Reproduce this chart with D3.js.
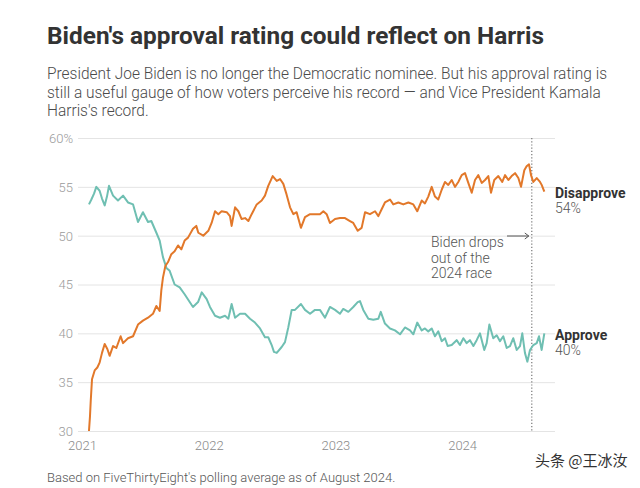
<!DOCTYPE html>
<html>
<head>
<meta charset="utf-8">
<script src="https://cdn.jsdelivr.net/npm/d3@7"></script>
<style>
  html, body { margin: 0; padding: 0; background: #fff; }
  svg { display: block; }
  text { font-family: Roboto, "Noto Sans", "Liberation Sans", sans-serif; }
</style>
</head>
<body>
<svg id="chart" width="640" height="488"></svg>
<script>
// ---- Data (decimal year, percent) ----
const approve = [
  [2021.055,53.2],[2021.074,53.7],[2021.095,54.3],[2021.113,55.0],[2021.139,54.6],[2021.158,53.8],
  [2021.179,53.1],[2021.197,54.0],[2021.213,55.1],[2021.245,54.1],[2021.284,53.6],[2021.324,54.1],
  [2021.363,53.4],[2021.403,53.2],[2021.442,51.4],[2021.481,52.4],[2021.521,51.4],[2021.547,51.5],
  [2021.587,50.3],[2021.613,49.5],[2021.639,47.8],[2021.666,46.7],[2021.692,46.4],[2021.731,45.0],
  [2021.771,44.7],[2021.810,44.0],[2021.850,43.2],[2021.876,42.7],[2021.916,43.2],[2021.945,44.2],
  [2021.984,43.5],[2022.010,42.7],[2022.050,41.8],[2022.089,41.6],[2022.129,41.8],[2022.155,41.5],
  [2022.181,43.0],[2022.208,41.6],[2022.247,42.0],[2022.287,42.0],[2022.326,41.5],[2022.365,41.1],
  [2022.405,40.5],[2022.444,39.6],[2022.470,39.6],[2022.497,38.8],[2022.515,38.1],[2022.537,38.0],
  [2022.576,38.6],[2022.602,39.1],[2022.628,40.6],[2022.655,42.4],[2022.681,42.4],[2022.728,43.0],
  [2022.760,42.4],[2022.800,42.0],[2022.839,42.4],[2022.878,42.4],[2022.918,41.6],[2022.957,42.7],
  [2022.997,42.4],[2023.036,42.0],[2023.062,42.5],[2023.102,42.2],[2023.141,42.7],[2023.176,43.2],
  [2023.194,43.3],[2023.220,42.4],[2023.260,41.5],[2023.299,41.4],[2023.339,41.5],[2023.358,42.2],
  [2023.391,41.0],[2023.431,40.5],[2023.470,40.3],[2023.510,39.9],[2023.549,40.6],[2023.589,40.3],
  [2023.615,39.9],[2023.646,41.1],[2023.681,40.3],[2023.707,40.5],[2023.733,40.2],[2023.760,40.5],
  [2023.786,39.7],[2023.812,40.2],[2023.839,39.2],[2023.865,39.5],[2023.886,38.7],[2023.918,38.8],
  [2023.957,39.3],[2023.983,38.8],[2024.010,39.5],[2024.036,39.0],[2024.062,39.3],[2024.089,38.7],
  [2024.115,39.3],[2024.141,40.0],[2024.175,38.3],[2024.194,39.0],[2024.215,40.9],[2024.246,39.5],
  [2024.273,39.8],[2024.299,39.2],[2024.325,39.7],[2024.352,38.5],[2024.378,38.7],[2024.404,39.5],
  [2024.431,38.3],[2024.457,38.7],[2024.475,40.0],[2024.496,38.0],[2024.515,37.1],[2024.536,38.3],
  [2024.562,38.8],[2024.589,39.0],[2024.607,39.7],[2024.628,38.3],[2024.649,40.0]
];
const disapprove = [
  [2021.055,30.0],[2021.063,31.5],[2021.069,33.1],[2021.079,35.3],[2021.100,36.2],[2021.121,36.5],
  [2021.139,37.0],[2021.158,38.0],[2021.179,38.9],[2021.200,38.4],[2021.218,37.7],[2021.245,38.7],
  [2021.271,38.5],[2021.305,39.7],[2021.324,39.0],[2021.363,39.5],[2021.403,39.7],[2021.442,40.9],
  [2021.481,41.3],[2021.521,41.6],[2021.560,42.0],[2021.587,42.8],[2021.613,42.3],[2021.626,44.4],
  [2021.639,45.7],[2021.658,46.9],[2021.679,47.3],[2021.705,48.1],[2021.731,48.4],[2021.758,49.0],
  [2021.784,48.6],[2021.810,49.5],[2021.837,49.8],[2021.876,50.7],[2021.902,51.0],[2021.918,50.3],
  [2021.957,50.0],[2021.997,50.5],[2022.023,51.3],[2022.050,52.5],[2022.076,52.2],[2022.102,52.5],
  [2022.142,52.4],[2022.168,52.0],[2022.181,51.0],[2022.208,52.9],[2022.234,52.5],[2022.260,51.7],
  [2022.287,51.8],[2022.313,51.5],[2022.339,52.2],[2022.379,53.2],[2022.418,53.6],[2022.444,54.1],
  [2022.470,55.1],[2022.505,56.1],[2022.537,55.6],[2022.563,55.8],[2022.589,55.3],[2022.615,54.2],
  [2022.642,52.9],[2022.668,52.2],[2022.694,52.4],[2022.728,50.8],[2022.760,51.9],[2022.800,52.2],
  [2022.839,52.2],[2022.878,52.2],[2022.905,52.5],[2022.931,52.2],[2022.957,51.3],[2022.997,51.7],
  [2023.036,51.8],[2023.076,51.8],[2023.115,51.5],[2023.141,51.3],[2023.176,50.5],[2023.207,50.8],
  [2023.234,52.4],[2023.273,52.2],[2023.313,52.5],[2023.339,52.0],[2023.365,52.7],[2023.391,53.4],
  [2023.431,53.7],[2023.457,53.2],[2023.497,53.4],[2023.536,53.2],[2023.576,53.4],[2023.615,53.2],
  [2023.646,52.5],[2023.681,53.6],[2023.707,53.3],[2023.733,54.0],[2023.760,55.0],[2023.786,54.0],
  [2023.812,53.7],[2023.839,54.7],[2023.865,55.5],[2023.891,55.2],[2023.918,55.7],[2023.944,55.0],
  [2023.970,55.5],[2023.997,56.2],[2024.023,56.4],[2024.049,55.4],[2024.076,54.4],[2024.102,55.7],
  [2024.128,56.2],[2024.155,55.4],[2024.181,55.7],[2024.207,56.1],[2024.228,54.4],[2024.254,55.7],
  [2024.286,56.1],[2024.317,55.5],[2024.339,56.2],[2024.365,55.7],[2024.391,56.1],[2024.418,56.4],
  [2024.444,55.9],[2024.465,55.0],[2024.491,56.7],[2024.509,57.1],[2024.528,57.3],[2024.544,56.2],
  [2024.562,55.5],[2024.589,55.9],[2024.615,55.5],[2024.628,55.2],[2024.649,54.5]
];
const yTicks = [30, 35, 40, 45, 50, 55, 60];
const xTicks = [2021, 2022, 2023, 2024];
const dropOutYear = 2024.55;
const title = "Biden's approval rating could reflect on Harris";
const subtitleLines = [
  "President Joe Biden is no longer the Democratic nominee. But his approval rating is",
  "still a useful gauge of how voters perceive his record \u2014 and Vice President Kamala",
  "Harris's record."
];
const annotationLines = ["Biden drops", "out of the", "2024 race"];
const footer = "Based on FiveThirtyEight's polling average as of August 2024.";
const watermark = "\u5934\u6761 @\u738b\u51b0\u6c5d";
const endLabels = [
  { name: "Disapprove", value: "54%", last: 54.5, shift: 6 },
  { name: "Approve", value: "40%", last: 40.0, shift: 7 }
];

// ---- Drawing ----
const svg = d3.select("#chart");
const colors = { approve: "#6fbfb2", disapprove: "#e2782a" };

const x = d3.scaleLinear().domain([2021, 2025]).range([82, 82 + 4 * 126.7]);
const y = d3.scaleLinear().domain([30, 60]).range([431, 138]);
const gridX0 = 78, gridX1 = 555;

// title
const t = svg.append("text").attr("x", 47).attr("y", 44)
  .attr("font-size", 23).attr("font-weight", 700).attr("fill", "#333")
  .text(title);
t.attr("textLength", 497).attr("lengthAdjust", "spacingAndGlyphs");

// subtitle
const subs = svg.selectAll("text.sub").data(subtitleLines).join("text")
  .attr("class", "sub")
  .attr("x", 47).attr("y", (d, i) => 79 + i * 18.7)
  .attr("font-size", 16).attr("font-weight", 300).attr("fill", "#4a4a4a")
  .text(d => d);
const nat0 = subs.nodes()[0].getComputedTextLength();
const k = 560 / nat0;
subs.each(function () {
  const w = this.getComputedTextLength();
  d3.select(this).attr("textLength", w * k).attr("lengthAdjust", "spacingAndGlyphs");
});

// gridlines + y labels
const yAxis = d3.axisLeft(y).tickValues(yTicks)
  .tickSize(-(gridX1 - gridX0))
  .tickFormat(d => d === 60 ? "60%" : String(d));
const gy = svg.append("g").attr("transform", `translate(${gridX0},0)`).call(yAxis);
gy.select(".domain").remove();
gy.selectAll(".tick line").attr("stroke", "#e4e4e4").attr("stroke-width", 1);
gy.selectAll(".tick text").attr("x", -5).attr("dy", "0.34em")
  .attr("fill", "#9a9a9a").attr("font-size", 13)
  .style("font-family", "Roboto, sans-serif").style("font-weight", 300);

// x labels
const xAxis = d3.axisBottom(x).tickValues(xTicks).tickSize(0).tickFormat(d3.format("d"));
const gx = svg.append("g").attr("transform", "translate(0,437)").call(xAxis);
gx.select(".domain").remove();
gx.selectAll(".tick text").attr("dy", "0.71em").attr("y", 4)
  .attr("fill", "#8a8a8a").attr("font-size", 13)
  .style("font-family", "Roboto, sans-serif").style("font-weight", 300);

// dotted line
svg.append("line")
  .attr("x1", x(dropOutYear)).attr("x2", x(dropOutYear))
  .attr("y1", y(60)).attr("y2", y(30))
  .attr("stroke", "#777").attr("stroke-width", 1.2).attr("stroke-dasharray", "1.2,2");

// lines
const line = d3.line().x(d => x(d[0])).y(d => y(d[1]));
svg.append("path").datum(approve).attr("d", line)
  .attr("fill", "none").attr("stroke", colors.approve).attr("stroke-width", 2)
  .attr("stroke-linejoin", "round");
svg.append("path").datum(disapprove).attr("d", line)
  .attr("fill", "none").attr("stroke", colors.disapprove).attr("stroke-width", 2)
  .attr("stroke-linejoin", "round");

// end labels
const lab = svg.selectAll("g.endlab").data(endLabels).join("g").attr("class", "endlab")
  .attr("transform", d => `translate(555,${y(d.last) + d.shift})`);
lab.append("text").attr("y", 0).attr("font-size", 14).attr("font-weight", 700)
  .attr("fill", "#333").text(d => d.name);
lab.append("text").attr("y", 15).attr("font-size", 14).attr("font-weight", 300)
  .attr("fill", "#555").text(d => d.value);

// annotation
svg.selectAll("text.ann").data(annotationLines).join("text").attr("class", "ann")
  .attr("x", 431).attr("y", (d, i) => 247 + i * 15.5)
  .attr("font-size", 14).attr("font-weight", 300).attr("fill", "#555")
  .text(d => d);
svg.append("line").attr("x1", 507).attr("x2", x(dropOutYear) - 3)
  .attr("y1", 236).attr("y2", 236).attr("stroke", "#555").attr("stroke-width", 1);
svg.append("path")
  .attr("d", `M${x(dropOutYear) - 7},233 L${x(dropOutYear) - 3},236 L${x(dropOutYear) - 7},239`)
  .attr("fill", "none").attr("stroke", "#555").attr("stroke-width", 1);

// footer
svg.append("text").attr("x", 47).attr("y", 482)
  .attr("font-size", 13).attr("font-weight", 300).attr("fill", "#555")
  .text(footer);

// watermark
svg.append("text").attr("x", 535).attr("y", 466)
  .attr("font-size", 15).attr("fill", "#333")
  .style("font-family", "'Noto Sans CJK SC', sans-serif")
  .text(watermark);
</script>
</body>
</html>
